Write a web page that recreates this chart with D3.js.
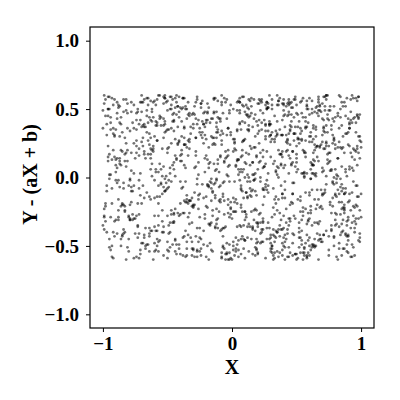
<!DOCTYPE html>
<html>
<head>
<meta charset="utf-8">
<script src="https://cdn.jsdelivr.net/npm/d3@7"></script>
<style>
  body { margin: 0; background: #fff; }
  svg text { font-family: "Liberation Serif", "Times New Roman", serif; font-weight: bold; }
</style>
</head>
<body>
<script>
// residual scatter, x and y stored in hundredths
const xHundredths = [
  -87, 23, 61, -14, -52, 95, 8, -71, 40, -33, 77, -96, 15, 54, -5, -61, 88, 31, -24, 69,
  -45, 2, 83, -78, 36, -9, 57, -91, 19, 72, -37, 46, -66, 99, -18, 11, -83, 64, 27, -55,
  91, -29, 5, -74, 48, 80, -42, 13, -98, 59, 34, -12, -63, 86, 21, -50, 74, -3, 43, -85,
  17, -68, 52, -21, 97, -39, 66, -7, 29, -93, 81, 6, -57, 38, -80, 25, 63, -47, 92, -16,
  -2, 49, -76, 71, -31, 12, -89, 56, 85, -26, 39, -60, 3, 94, -44, 67, -11, -72, 20, 51,
  78, -53, 33, -95, 9, 62, -19, 44, -67, 100, -36, 24, 73, -84, 58, -8, 30, -58, 89, -40,
  -13, 65, -81, 4, 42, -99, 70, 26, -49, 84, -23, 53, -70, 16, 96, -35, 47, -88, 1, 76,
  35, -6, -62, 90, -27, 55, -82, 18, 68, -46, 7, -94, 41, 79, -15, 60, -73, 28, -38, 93,
  -56, 22, 87, -32, 45, -77, 10, 64, -4, -90, 32, 75, -51, 14, -65, 98, -20, 50, -86, 37,
  82, -43, 28, -10, 58, -97, 37, -64, 71, 0, -28, 91, -75, 48, -1, 26, -54, 83, -34, 11,
  -69, 46, 15, -88, 76, -17, 61, -41, 9, 94, -59, 33, -92, 67, 22, -25, 55, -79, 4, 86,
  43, -15, -75, 66, -48, 97, 19, -30, 80, -63, 2, 52, -100, 38, 73, -8, -45, 13, 89, -22,
  -34, 79, 7, -58, 31, 50, -87, 24, -12, 62, -70, 96, 40, -37, 17, -95, 70, -2, 57, -49,
  14, -84, 92, -19, 63, -40, 3, 85, -66, 28, 47, -5, -78, 99, -29, 35, -60, 74, 10, -93,
  68, -26, -53, 41, -9, 81, -72, 56, 21, -44, 90, -83, 6, -16, 60, -36, 44, -97, 29, 77,
  -11, 54, -90, 18, 87, -56, 32, -3, 72, -81, 49, 12, -39, 95, -67, 8, -24, 65, -52, 39,
  98, -41, 25, -76, 5, 69, -28, 84, -61, 16, -7, 58, -94, 42, 78, -50, 23, -18, -86, 53,
  -64, 36, 71, -13, -96, 48, -33, 93, 1, -71, 64, 27, -47, 82, -20, 10, -89, 51, 34, -4,
  26, -98, 59, -37, 84, 18, -55, 7, 75, -24, 45, -82, 100, -10, 39, -68, 15, 61, -43, 88,
  -77, 12, 44, 91, -6, -52, 30, -85, 67, 22, -32, 79, -15, 55, -73, 3, 94, -46, 20, -62,
  57, -21, 6, -69, 86, 33, -93, 48, -2, 70, -57, 19, 37, -88, 62, -12, 83, -35, 9, -80,
  -30, 73, -48, 26, -14, 97, 4, -79, 52, 41, -65, 90, -22, 13, -99, 66, 31, -54, 78, -7,
  92, -60, 17, 47, -87, 1, 76, -27, 35, -45, 85, -11, 58, -74, 24, 99, -38, 5, -63, 42,
  -17, 37, -92, 63, 11, -42, 88, -9, -67, 54, 21, -31, 74, -84, 46, -3, 68, -51, 30, 96,
  8, -72, 50, -25, 80, -58, 28, 95, -40, 13, -86, 62, -1, 39, -53, 81, -19, 56, -95, 23,
  71, -5, -83, 34, 58, -35, 16, -64, 91, 43, -13, 69, -78, 27, 6, -47, 87, -28, 49, -70,
  -50, 85, 20, -16, -61, 75, 40, -99, 3, 60, -22, 31, -44, 98, -8, 53, -91, 18, 64, -33,
  36, -89, 68, -46, 22, -4, 89, -55, 47, -18, 76, -71, 11, 33, -30, 57, -1, -82, 93, 14,
  -23, 61, -11, 79, -79, 45, -34, 9, 100, -62, 25, -6, 83, -49, 70, -90, 40, 2, -39, 52,
  84, -48, 38, -3, 14, -94, 55, 30, -20, 77, -53, 96, -36, 8, 63, -76, 21, 45, -14, -58,
  -91, 19, 73, -42, 59, 27, -74, 87, -33, 5, 48, -12, -85, 66, 35, -26, 92, -66, 17, 74,
  4, -36, 97, -21, -57, 82, 13, -47, 65, 39, -96, 23, 54, -8, 78, -41, 10, -72, 85, -19,
  49, -80, 31, 64, -29, 7, -68, 42, 88, -14, 59, -89, 18, 94, -59, 36, -27, 71, -4, 26,
  -40, 67, -7, 16, 91, -50, 41, -16, 7, -84, 72, 34, -63, 50, -23, 80, -98, 25, 61, -45,
  63, 10, -59, 87, -38, 24, -2, 75, -80, 57, -27, 44, 99, -70, 12, -12, 67, -35, -92, 40,
  -8, 53, -25, 70, 2, -74, 95, -43, 33, 83, -60, 15, -37, 60, 89, -56, 4, 46, -17, -85,
  80, -33, 47, 10, -100, 64, -18, 35, -52, 92, 20, -79, 56, -9, 72, -44, 29, 86, -65, 1,
  -54, 94, -15, 29, 68, -39, 8, -97, 43, -6, 77, 51, -83, 17, -31, 97, -50, 60, 32, -12,
  24, -63, 82, -47, 39, 5, -87, 62, -22, 16, -41, 73, 28, -94, 55, -18, 41, -76, 90, -29,
  -73, 41, -1, 56, -28, 87, -45, 20, 66, -13, 98, -68, 32, -3, 45, -58, 79, 6, -37, 65,
  3, -58, 76, -35, 18, 92, -81, 45, -12, 67, -49, 29, -94, 8, 55, -27, 83, -66, 39, -3,
  -71, 14, 50, -88, 62, -20, 97, -43, 26, -9, 73, -57, 34, 88, -76, 1, -37, 59, -15, 81,
  47, -98, 22, -52, 69, 11, -31, 93, -64, 36, -84, 5, 56, -18, 79, -45, 17, -73, 99, -25,
  -60, 32, 87, -6, -41, 64, -90, 27, 51, -69, 12, 40, -22, 95, -53, 70, -2, -86, 24, 58,
  15, -77, 41, 78, -33, 6, -55, 86, -19, 49, -96, 21, 68, -38, 30, -63, 91, -10, -48, 73,
  -29, 57, -4, 35, -82, 96, 19, -59, 74, -13, 43, -91, 9, 62, -44, 84, -25, 38, -68, 2,
  89, -40, 65, -16, 27, -72, 53, -1, -95, 31, 77, -50, 18, -30, 99, -79, 46, 10, -57, 34,
  -8, 71, -65, 44, 3, -37, 90, -84, 23, 56, -14, 82, -46, 37, -99, 13, 64, -21, 52, -74,
  60, -24, 9, -92, 47, 79, -11, 33, -58, 86, -35, 20, -70, 4, 72, -42, 29, -87, 41, 95,
  -53, 38, -80, 13, 66, -27, 50, 98, -47, 7, -62, 31, 85, -3, -34, 54, -93, 75, -17, 22,
  30, -85, 54, -10, -68, 41, 16, -39, 92, -76, 61, -6, 26, -54, 80, -19, 45, 0, -89, 67,
  -44, 9, 73, -59, 35, -2, 58, -97, 14, 48, -28, 89, -71, 42, 19, -52, 6, 85, -36, 62,
  81, -16, -48, 28, 91, -63, 4, 67, -34, 24, -86, 53, -12, 76, -41, 36, -95, 11, 48, -7,
  -96, 45, 18, -73, 55, 30, -21, 83, -5, -56, 39, 74, -88, 10, 63, -31, 97, -61, 26, 1,
  52, -37, 90, -26, 7, -83, 42, -14, 66, -51, 28, 95, -64, 47, -4, -78, 21, 59, -43, 86,
  -18, 63, -52, 81, -89, 17, 49, -7, 38, -67, 93, -23, 12, -45, 70, 4, -99, 33, -60, 44,
  75, -3, 26, -47, 60, -92, 84, 35, -28, 12, -74, 57, -38, 89, -16, 51, -82, 7, 68, -30,
  -39, 87, -70, 5, 43, -13, 71, -54, 96, -35, 19, -90, 61, 24, -58, 77, -9, 44, -79, 16,
  11, -61, 37, 70, -23, 55, -96, 20, -42, 82, -6, 46, -73, 31, 93, -26, 15, -49, 64, -87,
  -78, 24, -33, 98, 14, -45, 31, -69, 59, -8, 88, -37, 3, 72, -55, 40, -20, 91, -2, 49,
  66, -50, 8, -21, 80, -59, 22, 45, -85, 63, -31, 15, -97, 50, 6, -64, 82, -41, 33, -11,
  -25, 93, -87, 40, -8, 73, -46, 12, 28, -78, 53, -17, 85, -61, 37, -5, 69, -93, 19, 56,
  39, -14, 61, -65, 96, -30, 2, -52, 77, 18, -43, 65, -22, 9, -84, 58, -36, 25, -71, 90,
  -91, 48, -19, 23, -57, 85, -75, 62, -1, 35, -66, 98, -29, 56, -12, 79, 43, -48, 7, -35,
  7, -69, 98, -40, 51, -11, 36, -88, 70, -24, 10, -53, 44, -82, 87, -6, 26, -62, 54, 18,
  -56, 29, 2, 61, -36, 10, -78, 54, -17, 91, -44, 38, 75, -7, -92, 30, -27, 65, -51, 83,
  94, -27, 47, -13, -74, 67, -38, 27, 85, -60, 6, -32, 58, -99, 21, 96, -57, 13, -19, 44,
  -33, 64, -59, 88, 22, -49, 13, -5, 44, -89, 79, -15, 32, -40, 66, -72, 1, 50, -83, 27,
  58, -8, 32, -96, 75, 39, -62, 94, -30, 20, -53, 86, -4, 41, -68, 14, 88, -24, 36, -64,
  -14, 80, -42, 16, -28, 57, -95, 36, 63, -11, 43, -81, 22, 69, -37, 54, -46, 78, -3, 8,
  85, -51, 67, -20, 8, -60, 52, -34, 19, 73, -94, 29, -9, 61, -22, 42, -77, 94, 12, -43,
  -68, 20, -10, 46, 99, -26, 78, -72, 40, -1, 57, -44, 90, -63, 15, -34, 52, -15, 71, -90,
  27, -93, 84, -54, 35, -3, 60, 17, -49, 97, -20, 6, -58, 33, 81, -48, 9, -70, 47, 100,
  -47, 43, -28, 72, -66, 24, -12, 89, -83, 30, 65, -36, 50, -25, 4, 87, -62, 20, -9, 60,
  19, -74, 56, 1, -44, 93, -31, 49, -7, -65, 38, 80, -18, 97, -52, 23, -1, 63, -86, 34,
  -100, 62, -24, 30, 71, -16, 44, -50, 82, 8, -39, 24, -81, 55, -13, 68, -30, 39, 95, -53,
  44, -35, 7, -81, 53, -57, 90, -21, 34, -88, 16, 71, -45, 2, 39, -95, 74, -12, 57, -26,
  -63, 90, 40, -7, 24, -41, 65, 5, -76, 58, -32, 47, -2, 84, -69, 31, -50, 12, -38, 79,
  70, -19, -86, 51, -9, 77, -64, 39, 11, -45, 98, -27, 62, -15, 46, -56, 35, -79, 22, 88,
  -4, 54, -67, 99, -50, 3, 33, -91, 68, 27, -53, 13, -33, 76, -98, 60, -8, 45, -72, 10
];
const yHundredths = [
  12, -47, 33, -5, 58, -22, 41, -56, 7, 26, -38, 50, -14, 3, -60, 19, 45, -29, 54, -9,
  -33, 21, -52, 48, 0, -18, 37, -43, 15, 59, -26, 9, -49, 30, -7, 53, -40, 24, -2, 44,
  39, -11, 6, -58, 27, -35, 52, 17, -21, -46, 34, -1, 56, -31, 11, -53, 43, -16, 28, -42,
  -24, 57, -44, 14, 46, -8, 23, -37, 60, -19, 2, 40, -54, 31, -28, 8, -50, 36, 18, -4,
  49, -30, 25, -12, -57, 35, -41, 4, 55, -23, 42, -48, 20, -3, 51, -34, 13, -59, 38, 29,
  -15, 43, -27, 59, -45, 10, -6, 32, -52, 22, -39, 47, 1, -20, 37, -55, 26, 57, -32, 16,
  5, -50, 47, -36, 19, 54, -13, 28, -2, -42, 41, -25, 60, -9, 33, -47, 11, -29, 50, -18,
  31, -3, -39, 24, -58, 44, 8, -23, 52, -33, 15, 35, -51, 27, -10, 58, -44, 3, -26, 40,
  -46, 18, 55, -17, 38, -31, 0, 48, -55, 13, -38, 23, -4, 45, -49, 30, -21, 53, 9, -35,
  22, -56, 34, -7, 50, -40, 17, -14, 42, -60, 29, 6, -30, 57, -22, 39, 1, -48, 46, -11,
  -6, 37, -45, 51, -20, 11, -53, 26, 59, -28, 4, -43, 32, -16, 49, -37, 20, -1, 55, -52,
  45, -24, 14, -33, 3, 56, -48, 36, -12, 21, -57, 41, -35, 10, -5, 53, -27, 34, -43, 25,
  -29, 52, -9, 40, -50, 17, 30, -38, 6, 47, -19, 58, -44, 24, -31, 2, 43, -55, 15, 35,
  9, -41, 57, -22, 28, -3, -54, 38, 49, -11, 19, -36, 55, -47, 7, 32, -15, 60, -25, -8,
  53, -13, 29, -60, 43, -34, 21, 1, -27, 58, -46, 12, 39, -53, 26, -18, 48, -6, 30, -39,
  -37, 27, -2, 46, -23, 60, -42, 16, 33, -51, 8, -14, 50, -32, 37, 4, -57, 22, -10, 54,
  18, -52, 42, -30, 13, -45, 55, -7, 23, -36, 47, -59, 2, 31, -21, 56, -40, 10, 44, -17,
  -54, 7, 36, -15, 59, -28, 45, -49, 19, 3, -33, 51, -24, 14, -58, 40, -4, 28, -44, 57,
  30, -19, 50, -43, 22, -1, 38, -56, 11, 54, -30, 25, -12, 43, -38, 17, 52, -26, -49, 6,
  -10, 46, -35, 8, -52, 33, 15, -20, 57, -41, 37, -5, 24, -55, 48, -16, 5, 41, -33, 20,
  41, -27, 4, 55, -39, 26, -58, 44, -3, 31, -47, 16, 58, -24, 9, -34, 36, -13, 52, -45,
  -20, 60, -51, 34, 10, -6, 49, -31, 25, -15, 53, -42, 39, 0, -28, 47, -52, 21, -3, 32,
  48, -36, 22, -48, 40, -25, 12, 59, -40, 6, -18, 44, -57, 35, -8, 27, -44, 56, 14, -23,
  -3, 35, -59, 18, -29, 52, -11, 41, -50, 28, 57, -21, 13, -38, 46, -60, 23, -9, 39, -30,
  26, -8, 47, -54, 6, 38, -33, 20, -19, 50, -45, 3, 33, -12, 59, -27, 42, -51, 17, 55,
  -42, 14, -24, 30, 56, -16, 2, -41, 36, -58, 24, 48, -7, 19, -35, 50, -20, 8, -56, 37,
  35, -57, 54, -1, 21, -43, 45, -23, 9, -11, 39, -50, 28, -30, 55, -14, 31, -39, 2, -26,
  -16, 43, -32, 57, -48, 15, 32, -4, 51, -34, 18, -53, 46, 12, -22, 36, -59, 49, -11, 23,
  56, -21, 10, -44, 34, -55, 27, 6, -29, 41, -9, 58, -36, 22, -47, 4, 53, -18, 30, -51,
  -1, 50, -38, 20, -13, 44, -60, 31, 16, -26, 54, -34, 7, -43, 38, -6, 25, -32, 58, -14,
  15, -33, 60, -26, 40, -9, 18, -52, 47, 2, -42, 29, -19, 52, -54, 11, -37, 45, -2, 33,
  -49, 24, -14, 48, -35, 1, 57, -27, 30, -57, 12, 40, -46, 34, -4, 59, -25, 16, -40, 47,
  37, -6, 28, -50, 52, -20, 39, -45, 4, 25, -31, 55, -10, 43, -53, 20, -1, 34, -48, 10,
  -27, 55, -43, 11, 23, -59, 46, -17, 35, -8, 49, -39, 17, -56, 29, -31, 57, -14, 6, 41,
  3, -46, 38, -22, 58, -32, 9, 42, -54, 18, -5, 53, -41, 26, 45, -23, 12, -57, 36, -37,
  -58, 32, -12, 54, -3, 27, -37, 13, -47, 60, -28, 21, 36, -50, 1, 43, -19, 51, -35, 19,
  44, -17, 19, -31, 49, -51, 7, -40, 58, -24, 32, -2, -55, 15, 52, -45, 38, -8, 27, -53,
  -12, 58, -28, 39, -42, 20, 53, -10, 27, -37, 6, 46, -21, 57, -33, 9, -47, 30, -60, 48,
  20, -39, 45, -3, 31, -53, 14, 56, -15, 37, -49, 26, -6, 40, -28, 51, -42, 3, 43, -20,
  -36, 9, 53, -57, 16, -12, 47, -34, 23, -4, 59, -44, 10, -26, 34, -50, 28, 55, -17, 1,
  -44, 27, 52, -18, 3, -58, 36, 14, -31, 49, -7, 41, -53, 20, -25, 57, -12, 33, -48, 8,
  55, -36, 11, -2, -49, 28, -21, 46, -59, 16, 38, -28, 4, -41, 53, -15, 29, -55, 43, -4,
  -19, 45, -33, 60, 24, -11, -52, 7, 32, -38, 57, -46, 19, -6, 41, -32, 2, 50, -24, 36,
  30, -57, 18, -27, 44, -45, 9, 55, -16, 23, -3, -50, 47, 13, -36, 26, -60, 39, -9, 52,
  -10, 40, -47, 31, -34, 58, -5, 22, 48, -56, 15, 34, -22, 51, -44, 6, 36, -17, 59, -39,
  46, -23, 2, 53, -60, 19, 41, -39, 10, -13, 54, -32, 27, -51, 1, 44, -29, 17, -42, 25,
  -54, 12, 35, -8, 50, -27, -44, 31, -1, 57, -35, 21, -57, 39, 14, -20, 55, -46, 4, -14,
  24, -42, 58, -51, 8, 37, -18, 48, -38, 3, 29, -9, 46, -26, 60, -54, 12, 31, -33, 42,
  -30, 51, -15, 20, -41, 0, 56, -55, 27, -22, 43, 6, -48, 35, -11, 25, -37, 52, -3, -57,
  38, -6, -29, 44, 15, -53, 23, -14, 59, -45, 10, 50, -34, 1, -19, 47, -50, 18, 40, -26,
  -48, 33, 56, -25, 37, -9, -38, 12, 42, -59, 30, -17, 53, -40, 21, -5, 35, -30, 7, 59,
  16, -52, 25, 6, -24, 47, -58, 39, -8, 32, -43, 58, -13, 26, -52, 41, -2, -23, 50, -35,
  -1, 43, -40, 54, -17, 29, 13, -46, 55, -30, 20, -55, 37, 5, -28, 56, -45, 10, 32, -12,
  50, -20, 30, -35, 58, -42, 4, 26, -56, 45, -12, 17, -31, 48, 9, -47, 23, -60, 38, -50,
  -37, 9, -55, 42, -6, 17, -33, 57, -20, 1, 51, -40, 24, -57, 43, -10, 54, -26, 14, 30,
  22, -49, 39, -14, 47, -2, 32, -51, 17, -37, 60, -5, -44, 34, -23, 12, -38, 45, -54, 3,
  -57, 36, -7, 25, -44, 53, -27, 8, 43, -15, 23, -48, 58, -35, 30, -59, 18, -8, 49, -21,
  41, -12, 48, -58, 20, -36, 59, -24, -6, 50, -53, 35, -1, 15, -45, 38, -16, 55, -31, 11,
  -27, 55, -43, 7, 33, -22, 45, -47, 24, -60, 12, 41, -19, 53, -33, 2, 47, -41, 20, -7,
  5, -33, 21, -46, 56, 11, -55, 38, -32, 27, -8, 58, -52, 21, 6, -28, 40, -12, -49, 57,
  -41, 18, 59, -30, -13, 41, -3, 54, -43, 9, 46, -25, 31, -60, 49, -37, 14, 27, -16, 35,
  33, -58, 10, 49, -38, 23, -49, 2, 51, -18, 36, -34, -10, 44, -55, 19, -21, 58, -45, 0,
  -15, 47, -24, 17, 40, -52, 28, -10, 35, -51, 55, 3, -39, 27, -4, 53, -58, 8, 42, -29,
  57, -4, -50, 35, -19, 8, -41, 50, -27, 60, -11, 44, -58, 18, 33, -43, 25, -33, 6, -52,
  -22, 29, 43, -56, 6, -30, 53, -16, 4, -45, 28, -57, 16, 57, -26, 11, -5, 48, -39, 22,
  10, -45, 26, -1, 52, -59, 18, 34, -48, 40, -23, 9, 49, -14, -40, 31, -54, 37, 55, -18,
  -51, 39, -12, 58, -28, 45, -7, -37, 21, -2, 55, -44, 3, -29, 42, -20, 60, -34, 13, 46,
  28, -16, 53, -42, 12, -54, 35, 55, -30, 14, -50, 29, -22, 51, -9, 39, -47, 4, -25, 50,
  -34, 60, -8, 23, -53, 31, 1, -21, 47, -36, 8, 52, -56, 37, -15, -3, 32, -52, 56, -43,
  48, -26, 37, -37, 29, -11, 50, -58, 13, 33, -41, 20, 56, -47, 24, -31, 9, 43, -20, 16,
  -5, 34, -60, 42, -25, 56, -40, 16, -13, 57, -29, 39, -6, 11, -49, 52, -27, 21, -36, 60,
  19, -55, 4, -18, 46, -47, 25, -2, 54, -23, 44, -54, 33, -16, 58, -42, 28, -11, 37, -31,
  -45, 13, 50, -32, 2, 36, -57, 43, -35, 21, -14, 47, -39, 28, -58, 7, -35, 55, -4, 26,
  53, -38, 19, -9, 58, -20, 40, -49, 29, -52, 51, -3, 14, -44, 34, -24, 50, -56, 31, -13,
  -24, 47, -52, 28, -46, 15, -15, 59, -4, 40, -31, 24, -60, 45, -1, 57, -18, 36, -50, 5,
  36, -9, 31, -54, 21, -33, 57, -28, 47, -10, 17, -47, 54, 3, -37, 22, -53, 15, 44, -40,
  -58, 22, -36, 12, 55, -6, -43, 37, -19, 53, -56, 5, 42, -25, 19, -51, 46, -2, 27, -16,
  42, -31, 57, -50, 7, 48, -23, 13, 36, -42, 32, -12, -29, 59, -48, 33, -8, 51, -57, 29,
  -12, 54, -21, 37, -39, 5, 44, -53, 18, -26, 59, -37, 26, -54, 10, -14, 41, -30, 0, 52,
  31, -49, 14, -44, 49, -25, -59, 30, -45, 55, -7, 38, -17, 49, -32, 46, -59, 24, -41, 11
];
const xTicks = [-1, 0, 1];
const yTicks = [-1.0, -0.5, 0.0, 0.5, 1.0];
const xDomain = [-1.1, 1.1];
const yDomain = [-1.1, 1.1];

const WIDTH = 400;
const HEIGHT = 400;
const MARGIN = {top: 27, right: 26, bottom: 72, left: 90};

const points = xHundredths.map((x, i) => ({x: x / 100, y: yHundredths[i] / 100}));

const svg = d3.select('body')
  .append('svg')
  .attr('width', WIDTH)
  .attr('height', HEIGHT);

const xScale = d3.scaleLinear()
  .domain(xDomain)
  .range([MARGIN.left, WIDTH - MARGIN.right]);

const yScale = d3.scaleLinear()
  .domain(yDomain)
  .range([HEIGHT - MARGIN.bottom, MARGIN.top]);

// scatter points
svg.append('g')
  .selectAll('circle')
  .data(points)
  .enter()
  .append('circle')
  .attr('cx', d => xScale(d.x))
  .attr('cy', d => yScale(d.y))
  .attr('r', 1.4)
  .attr('fill', '#000')
  .attr('fill-opacity', 0.55);

// axes
const xAxis = d3.axisBottom(xScale)
  .tickValues(xTicks)
  .tickFormat(d3.format('d'))
  .tickSize(4)
  .tickSizeOuter(0)
  .tickPadding(5);

const yAxis = d3.axisLeft(yScale)
  .tickValues(yTicks)
  .tickFormat(d3.format('.1f'))
  .tickSize(4)
  .tickSizeOuter(0)
  .tickPadding(7);

const gx = svg.append('g')
  .attr('transform', 'translate(0,' + (HEIGHT - MARGIN.bottom) + ')')
  .call(xAxis);

const gy = svg.append('g')
  .attr('transform', 'translate(' + MARGIN.left + ',0)')
  .call(yAxis);

[gx, gy].forEach(g => {
  g.select('.domain').remove();
  g.selectAll('.tick line').attr('stroke', '#000').attr('stroke-width', 1);
  g.selectAll('.tick text')
    .attr('fill', '#000')
    .style('font-size', '19px');
});

// frame
svg.append('rect')
  .attr('x', MARGIN.left)
  .attr('y', MARGIN.top)
  .attr('width', WIDTH - MARGIN.left - MARGIN.right)
  .attr('height', HEIGHT - MARGIN.top - MARGIN.bottom)
  .attr('fill', 'none')
  .attr('stroke', '#000')
  .attr('stroke-width', 1.2);

// axis titles
svg.append('text')
  .attr('x', xScale(0))
  .attr('y', 374)
  .attr('text-anchor', 'middle')
  .style('font-size', '20px')
  .text('X');

svg.append('text')
  .attr('transform', 'translate(37,' + (yScale(0) - 3) + ') rotate(-90)')
  .attr('text-anchor', 'middle')
  .style('font-size', '20px')
  .text('Y - (aX + b)');
</script>
</body>
</html>
